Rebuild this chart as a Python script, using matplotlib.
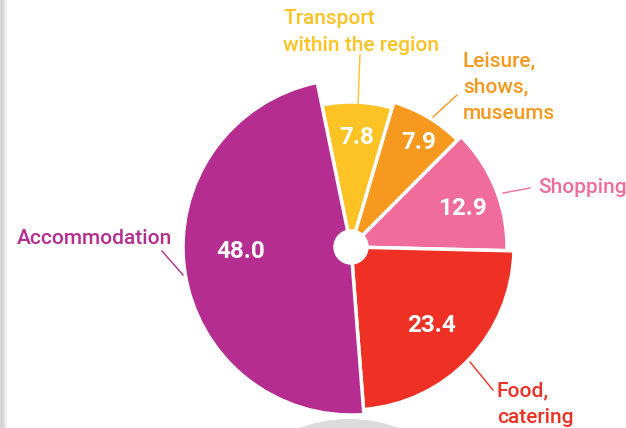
import numpy as np
import matplotlib.pyplot as plt
from matplotlib.patches import Wedge, Circle, Rectangle

# data
categories = ["Transport\nwithin the region", "Leisure,\nshows,\nmuseums", "Shopping",
              "Food,\ncatering", "Accommodation"]
values = [7.8, 7.9, 12.9, 23.4, 48.0]
colors = ["#FDC325", "#F7981F", "#F06C9B", "#EE3124", "#B52D90"]

# layout (pixel units, y up)
W, H = 626, 428
cx, cy = 351, H - 247
radii = [145, 151, 156, 163, 168]
start = 101.6

fig = plt.figure(figsize=(W / 100, H / 100), dpi=100)
ax = fig.add_axes([0, 0, 1, 1])
ax.set_xlim(0, W)
ax.set_ylim(0, H)
ax.set_aspect("equal")
ax.axis("off")

# page decorations
ax.add_patch(Rectangle((0, 0), 4, H, color="#d6d6d6", lw=0))
ax.add_patch(Rectangle((4, 0), 3, H, color="#ececec", lw=0))
ax.add_patch(Circle((349, 9 - 143), 143, color="#dcdcdc", lw=0))

fracs = np.array(values) / sum(values) * 360
ends = start - np.concatenate([[0], np.cumsum(fracs)[:-1]])
for i, v in enumerate(values):
    t2 = ends[i]
    t1 = t2 - fracs[i]
    ax.add_patch(Wedge((cx, cy), radii[i], t1, t2, facecolor=colors[i],
                       edgecolor="white", linewidth=2.5))
ax.add_patch(Circle((cx, cy), 17, color="white", zorder=5))

# value labels
val_pos = [(357, 137), (419, 142), (462, 208), (432, 326), (241, 252)]
for v, (x, y) in zip(values, val_pos):
    ax.text(x, H - y, f"{v:.1f}", color="white", fontsize=17.5, fontweight="bold",
            family="Roboto", ha="center", va="center")

# category labels and leader lines
lab_pos = [(283, 9, "left", "top", 1.52), (463, 51, "left", "top", 1.5),
           (538, 187, "left", "center", 1.3), (497, 381, "left", "top", 1.52),
           (172, 238, "right", "center", 1.3)]
leaders = [((360, 55), (358, 104)), ((433, 117), (457, 95)), ((503, 193), (530, 188)),
           ((470, 362), (493, 390)), ((183, 275), (162, 251))]
for i, cat in enumerate(categories):
    x, y, ha, va, ls = lab_pos[i]
    ax.text(x, H - y, cat, color=colors[i], fontsize=15, fontweight="medium",
            family="Roboto", ha=ha, va=va, linespacing=ls)
    (x0, y0), (x1, y1) = leaders[i]
    ax.plot([x0, x1], [H - y0, H - y1], color=colors[i], lw=1)

fig.savefig("out.png", dpi=100)
